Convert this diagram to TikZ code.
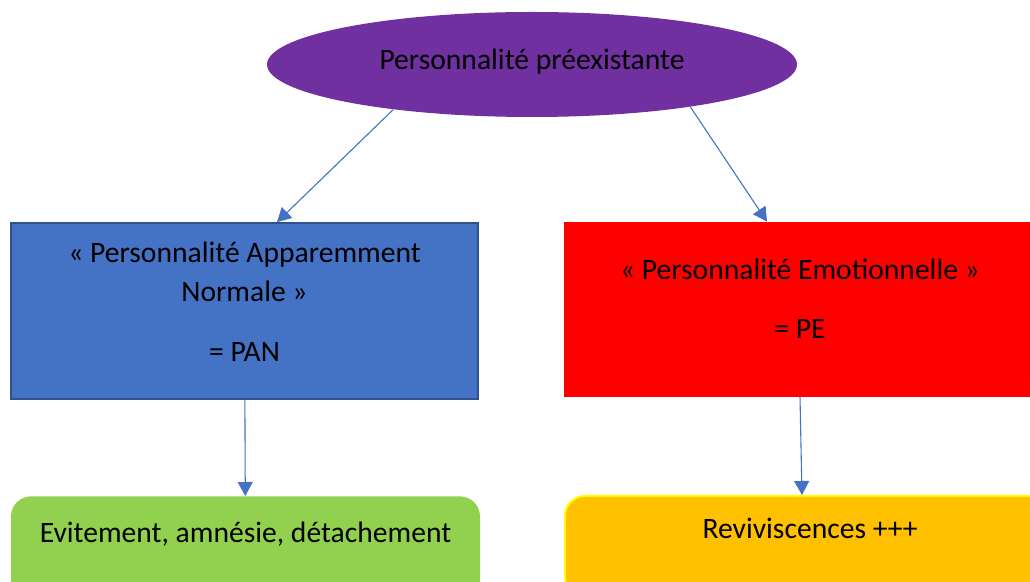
\documentclass[tikz,border=0pt]{standalone}
\usepackage{fontspec}
\setmainfont{Carlito}
\usetikzlibrary{shapes.geometric,arrows.meta}

\definecolor{violet}{HTML}{7030A0}
\definecolor{bleu}{HTML}{4472C4}
\definecolor{bleufonce}{HTML}{2F528F}
\definecolor{vert}{HTML}{92D050}
\definecolor{orange}{HTML}{FFC000}
\definecolor{jaune}{HTML}{FFFF00}

\begin{document}
\begin{tikzpicture}[x=0.5pt, y=-0.5pt,
	font=\fontsize{14.8}{19.5}\selectfont,
	fleche/.style={draw=bleu, line width=0.55pt,
		-{Triangle[length=7pt, width=7.5pt]}},
	hautbox/.style={rounded corners=10pt, anchor=north,
		text height=23pt, text depth=29pt, inner ysep=0pt}]

	\useasboundingbox (0,0) rectangle (1030,582);
	\clip (0,0) rectangle (1030,582);

	\node [ellipse, fill = violet, inner sep = 0pt,
		   text depth = 5pt,
		   minimum width = 265pt,
		   minimum height = 52.5pt] (perso) at (532,64.5){Personnalité préexistante};

	\node [draw = bleufonce, line width = 0.8pt,
		   fill = bleu, align = center,
		   text depth = 9pt,
		   minimum width = 233.5pt,
		   minimum height = 88pt] (pan) at (244.5,311)
		   {« Personnalité Apparemment\\Normale »\\[10.5pt]= PAN};
	\node [draw = red, fill = red, align = center,
		   text depth = 10pt,
		   minimum width = 236pt,
		   minimum height = 87pt] (pe) at (800,309)
		   {« Personnalité Emotionnelle »\\[10pt]= PE};

	\node [hautbox, fill = vert,
		   minimum width = 234.5pt] (evit) at (245.5,496){Evitement, amnésie, détachement};
	\node [hautbox, draw = jaune, line width = 1pt,
		   fill = orange,
		   text height = 21.5pt,
		   minimum width = 245pt] (reviv) at (810,495){Reviviscences +++};

	\draw[fleche] (perso.198) -- ([xshift=16.25pt]pan.north);
	\draw[fleche] (perso.345) -- ([xshift=-16.5pt]pe.north);
	\draw[fleche] (pan) -- (evit);
	\draw[fleche] (pe.south) -- ([xshift=-4pt]reviv.north);

\end{tikzpicture}
\end{document}
